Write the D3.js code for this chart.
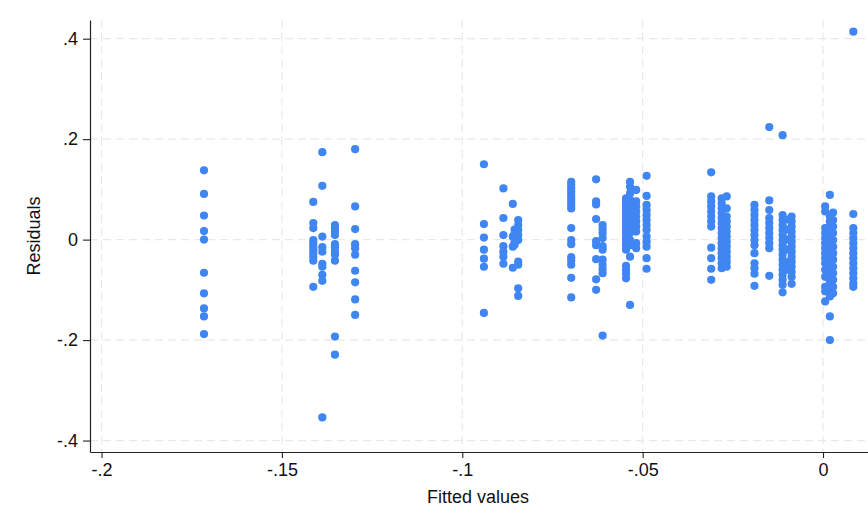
<!DOCTYPE html>
<html>
<head>
<meta charset="utf-8">
<script src="https://cdn.jsdelivr.net/npm/d3@7"></script>
<style>
  html, body { margin: 0; padding: 0; background: #ffffff; }
  svg { display: block; font-family: "Liberation Sans", Arial, Helvetica, sans-serif; }
</style>
</head>
<body>
<div id="chart"></div>
<script>
// fitted value of each vertical strip
const fitted = [
  -0.1716, -0.1413, -0.1388, -0.1353, -0.1297,
  -0.0940, -0.0886, -0.0860, -0.0855, -0.0845,
  -0.0698, -0.0629, -0.0611, -0.0546, -0.0535, -0.0518, -0.0489,
  -0.0310, -0.0281, -0.0267, -0.0190, -0.0149, -0.0112, -0.0100, -0.0087,
  0.0006, 0.0019, 0.0028, 0.0084
];

// residuals for each strip (same order as fitted)
const residuals = [
  [0.138, 0.091, 0.048, 0.017, 0.0, -0.066, -0.107, -0.137, -0.153, -0.188],
  [0.075, 0.033, 0.023, -0.001, -0.007, -0.014, -0.020, -0.027, -0.034, -0.042, -0.094],
  [0.174, 0.107, 0.006, -0.015, -0.024, -0.048, -0.054, -0.070, -0.082, -0.354],
  [0.029, 0.023, 0.016, 0.009, -0.009, -0.015, -0.024, -0.030, -0.042, -0.193, -0.229],
  [0.180, 0.066, 0.021, -0.009, -0.017, -0.030, -0.062, -0.085, -0.119, -0.150],
  [0.150, 0.031, 0.004, -0.020, -0.038, -0.054, -0.146],
  [0.102, 0.043, 0.009, -0.013, -0.024, -0.034, -0.048],
  [0.071, 0.006, -0.014, -0.056],
  [0.012, 0.002, -0.005, -0.010, 0.020],
  [0.039, 0.029, 0.019, 0.009, -0.001, -0.044, -0.050, -0.097, -0.112],
  [0.115, 0.109, 0.102, 0.096, 0.089, 0.082, 0.076, 0.069, 0.062, 0.023, -0.001, -0.009, -0.035, -0.042, -0.050, -0.076, -0.115],
  [0.120, 0.076, 0.070, 0.041, -0.003, -0.011, -0.039, -0.079, -0.100],
  [0.029, 0.021, 0.013, 0.003, -0.013, -0.020, -0.040, -0.050, -0.059, -0.067, -0.191],
  [0.082, 0.076, 0.069, 0.062, 0.056, 0.049, 0.042, 0.036, 0.029, 0.023, 0.016, 0.009, 0.003, -0.004, -0.011, -0.020, -0.052, -0.060, -0.068, -0.077],
  [0.115, 0.105, 0.092, 0.079, 0.066, 0.053, 0.039, 0.026, 0.013, -0.001, -0.011, -0.034, -0.130],
  [0.099, 0.076, 0.066, 0.056, 0.046, 0.036, 0.026, 0.016, -0.007, -0.017],
  [0.127, 0.087, 0.069, 0.059, 0.049, 0.039, 0.029, 0.019, 0.006, -0.004, -0.014, -0.037, -0.058],
  [0.134, 0.086, 0.076, 0.066, 0.056, 0.046, 0.036, 0.026, -0.016, -0.037, -0.058, -0.080],
  [0.082, 0.072, 0.062, 0.053, 0.043, 0.033, 0.023, 0.013, 0.003, -0.007, -0.017, -0.027, -0.037, -0.047, -0.057],
  [0.086, 0.062, 0.046, 0.036, 0.026, 0.016, 0.006, -0.004, -0.014, -0.024, -0.034, -0.044, -0.054],
  [0.069, 0.059, 0.049, 0.039, 0.029, 0.019, 0.009, -0.001, -0.011, -0.027, -0.047, -0.057, -0.068, -0.092],
  [0.224, 0.078, 0.059, 0.043, 0.033, 0.023, 0.013, 0.003, -0.007, -0.017, -0.072],
  [0.208, 0.049, 0.039, 0.029, 0.019, 0.009, -0.001, -0.011, -0.020, -0.030, -0.040, -0.050, -0.060, -0.070, -0.080, -0.090, -0.105],
  [0.040, 0.020, 0.0, -0.020, -0.045, -0.060],
  [0.046, 0.036, 0.026, 0.016, 0.006, -0.004, -0.014, -0.024, -0.034, -0.044, -0.054, -0.064, -0.074, -0.088],
  [0.066, 0.056, 0.023, 0.013, 0.003, -0.007, -0.017, -0.027, -0.037, -0.047, -0.060, -0.074, -0.094, -0.103, -0.123],
  [0.089, 0.046, 0.036, 0.026, 0.016, 0.006, -0.004, -0.014, -0.024, -0.034, -0.044, -0.054, -0.064, -0.074, -0.084, -0.094, -0.104, -0.113, -0.153, -0.200],
  [0.054, 0.039, 0.026, 0.013, -0.001, -0.014, -0.027, -0.040, -0.054, -0.067, -0.080, -0.094, -0.107],
  [0.414, 0.051, 0.023, 0.013, 0.003, -0.007, -0.017, -0.027, -0.037, -0.047, -0.057, -0.067, -0.077, -0.087, -0.094]
];

const xTicks = [-0.2, -0.15, -0.1, -0.05, 0];
const xTickLabels = ['-.2', '-.15', '-.1', '-.05', '0'];
const yTicks = [-0.4, -0.2, 0, 0.2, 0.4];
const yTickLabels = ['-.4', '-.2', '0', '.2', '.4'];

const points = fitted.flatMap((fx, i) => residuals[i].map((r) => ({ x: fx, y: r })));

// canvas
const W = 868, H = 510;
const margin = { top: 20, right: 0, bottom: 58, left: 90 };
const width = W - margin.left - margin.right;
const height = H - margin.top - margin.bottom;

const x = d3.scaleLinear()
  .domain([-0.2032, 0.01247])
  .range([0, width]);

const y = d3.scaleLinear()
  .domain([-0.4228, 0.4372])
  .range([height, 0]);

const svg = d3.select('#chart')
  .append('svg')
  .attr('width', W)
  .attr('height', H);

svg.append('rect')
  .attr('width', W)
  .attr('height', H)
  .attr('fill', '#ffffff');

const chart = svg.append('g')
  .attr('transform', `translate(${margin.left},${margin.top})`);

// grid
chart.append('g')
  .selectAll('line')
  .data(yTicks)
  .join('line')
  .attr('x1', 0)
  .attr('x2', width)
  .attr('y1', (d) => y(d))
  .attr('y2', (d) => y(d))
  .attr('stroke', '#e9e9e9')
  .attr('stroke-width', 1.2)
  .attr('stroke-dasharray', '8 5');

chart.append('g')
  .selectAll('line')
  .data(xTicks)
  .join('line')
  .attr('x1', (d) => x(d))
  .attr('x2', (d) => x(d))
  .attr('y1', 0)
  .attr('y2', height)
  .attr('stroke', '#e9e9e9')
  .attr('stroke-width', 1.2)
  .attr('stroke-dasharray', '8 5');

// points
chart.append('g')
  .selectAll('circle')
  .data(points)
  .join('circle')
  .attr('cx', (d) => x(d.x))
  .attr('cy', (d) => y(d.y))
  .attr('r', 4.1)
  .attr('fill', '#3f86f3');

// axes
const xAxis = d3.axisBottom(x)
  .tickValues(xTicks)
  .tickFormat((d, i) => xTickLabels[i])
  .tickSize(6)
  .tickPadding(5)
  .tickSizeOuter(0);

const yAxis = d3.axisLeft(y)
  .tickValues(yTicks)
  .tickFormat((d, i) => yTickLabels[i])
  .tickSize(7)
  .tickPadding(5)
  .tickSizeOuter(0);

const gx = chart.append('g')
  .attr('transform', `translate(0,${height})`)
  .call(xAxis);

const gy = chart.append('g')
  .call(yAxis);

[gx, gy].forEach((g) => {
  g.select('.domain').attr('stroke', '#222').attr('stroke-width', 1.2);
  g.selectAll('.tick line').attr('stroke', '#222').attr('stroke-width', 1.1);
  g.selectAll('.tick text')
    .attr('fill', '#111')
    .style('font-size', '18px')
    .style('font-family', '"Liberation Sans", Arial, sans-serif');
});

// axis titles
svg.append('text')
  .attr('x', 478)
  .attr('y', 503)
  .attr('text-anchor', 'middle')
  .attr('fill', '#111')
  .style('font-size', '18px')
  .text('Fitted values');

svg.append('text')
  .attr('transform', `translate(40,236) rotate(-90)`)
  .attr('text-anchor', 'middle')
  .attr('fill', '#111')
  .style('font-size', '18px')
  .text('Residuals');
</script>
</body>
</html>
